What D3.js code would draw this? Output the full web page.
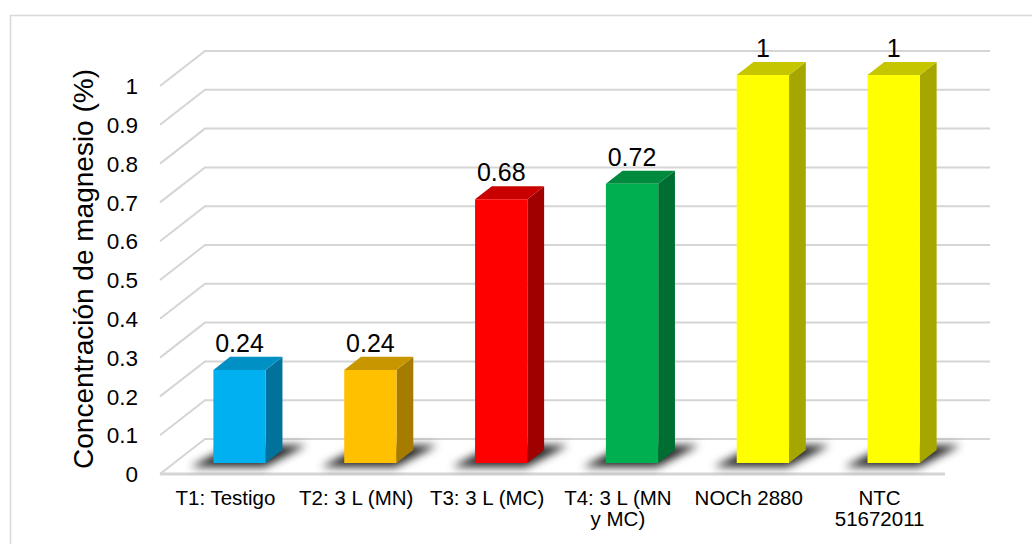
<!DOCTYPE html>
<html>
<head>
<meta charset="utf-8">
<script src="https://cdn.jsdelivr.net/npm/d3@7"></script>
<style>
  html, body { margin: 0; padding: 0; background: #ffffff; }
  svg { display: block; }
  text { font-family: "Liberation Sans", Arial, sans-serif; fill: #000; }
</style>
</head>
<body>
<svg id="chart" width="1032" height="544"></svg>
<script>
// Magnesium concentration per treatment
const categories = ["T1: Testigo", "T2: 3 L (MN)", "T3: 3 L (MC)", "T4: 3 L (MN\ny MC)", "NOCh 2880", "NTC\n51672011"];
const values = [0.24, 0.24, 0.68, 0.72, 1, 1];
const yTicks = [0, 0.1, 0.2, 0.3, 0.4, 0.5, 0.6, 0.7, 0.8, 0.9, 1];
const frontColors = ["#00B0F0", "#FFC000", "#FF0000", "#00B050", "#FFFF00", "#FFFF00"];
const topColors   = ["#0090C4", "#C89700", "#C80000", "#008A3E", "#C6C600", "#C6C600"];
const sideColors  = ["#00729C", "#A57C00", "#A00000", "#006E32", "#A6A600", "#A6A600"];
const yTitle = "Concentración de magnesio (%)";

const svg = d3.select("#chart");

// Oblique 3D projection: depth z runs from 0 (front) to 1 (back wall)
const DX = 45, DY = 35;
const x = d3.scaleBand().domain(categories).range([160, 945]).padding(0);
const y = d3.scaleLinear().domain([0, 1]).range([474, 86]);
const proj = (px, v, z) => [px + z * DX, y(v) - z * DY];
const pts = arr => arr.map(p => p.join(",")).join(" ");

const defs = svg.append("defs");
defs.append("filter").attr("id", "shadowBlur")
  .attr("x", "-50%").attr("y", "-50%").attr("width", "200%").attr("height", "200%")
  .append("feGaussianBlur").attr("stdDeviation", 4);

// Outer chart frame
svg.append("rect")
  .attr("x", 10.5).attr("y", 15.5).attr("width", 1040).attr("height", 560)
  .attr("fill", "#fff").attr("stroke", "#D9D9D9").attr("stroke-width", 1.5);

// Gridlines: left-wall diagonal plus back-wall horizontal
const [xl, xr] = x.range();
const grid = svg.append("g");
yTicks.forEach(t => {
  const a = proj(xl, t, 0), b = proj(xl, t, 1), c = proj(xr, t, 1);
  grid.append("polyline")
    .attr("points", pts([a, b, c]))
    .attr("fill", "none").attr("stroke", "#D5D5D5").attr("stroke-width", 2);
});
// Floor front edge
svg.append("line")
  .attr("x1", xl).attr("x2", xr).attr("y1", y(0)).attr("y2", y(0))
  .attr("stroke", "#D5D5D5").attr("stroke-width", 3);

// Y tick labels
svg.append("g").selectAll("text").data(yTicks).join("text")
  .attr("x", 138).attr("y", d => y(d))
  .attr("dy", "0.36em")
  .attr("text-anchor", "end")
  .attr("font-size", 22.5)
  .text(d => d3.format("~g")(d));

// Y axis title
svg.append("text")
  .attr("transform", `translate(93,${269}) rotate(-90)`)
  .attr("text-anchor", "middle")
  .attr("font-size", 28)
  .text(yTitle);

// Bars
const z0 = 0.314, z1 = 0.686;
const bars = categories.map((c, i) => {
  const bw = x.bandwidth();
  const x0 = x(c) + bw * 0.3, x1 = x0 + bw * 0.4;
  return { c, i, v: values[i], x0, x1 };
});

// Soft floor shadows
svg.append("g").attr("filter", "url(#shadowBlur)")
  .selectAll("polygon").data(bars).join("polygon")
  .attr("points", d => pts([
    proj(d.x0 - 18, 0, 0.2), proj(d.x1 + 4, 0, 0.2),
    proj(d.x1 + 18, 0, 0.82), proj(d.x0 - 4, 0, 0.82)
  ]))
  .attr("fill", "#000").attr("opacity", 0.85);

const barG = svg.append("g").selectAll("g").data(bars).join("g");
// side face
barG.append("polygon")
  .attr("points", d => pts([
    proj(d.x1, 0, z0), proj(d.x1, 0, z1), proj(d.x1, d.v, z1), proj(d.x1, d.v, z0)
  ]))
  .attr("fill", d => sideColors[d.i]);
// top face
barG.append("polygon")
  .attr("points", d => pts([
    proj(d.x0, d.v, z0), proj(d.x1, d.v, z0), proj(d.x1, d.v, z1), proj(d.x0, d.v, z1)
  ]))
  .attr("fill", d => topColors[d.i]);
// front face
barG.append("polygon")
  .attr("points", d => pts([
    proj(d.x0, 0, z0), proj(d.x1, 0, z0), proj(d.x1, d.v, z0), proj(d.x0, d.v, z0)
  ]))
  .attr("fill", d => frontColors[d.i]);

// Data labels above each bar
svg.append("g").selectAll("text").data(bars).join("text")
  .attr("x", d => (d.x0 + d.x1) / 2 + z0 * DX)
  .attr("y", d => proj(d.x0, d.v, z1)[1] - 5)
  .attr("text-anchor", "middle")
  .attr("font-size", 25)
  .text(d => d3.format("~g")(d.v));

// Category labels (may wrap onto two lines)
const catG = svg.append("g").selectAll("text").data(categories).join("text")
  .attr("x", d => x(d) + x.bandwidth() / 2)
  .attr("y", 505)
  .attr("text-anchor", "middle")
  .attr("font-size", 20.5);
catG.each(function(d) {
  const t = d3.select(this);
  d.split("\n").forEach((line, k) => {
    t.append("tspan")
      .attr("x", x(d) + x.bandwidth() / 2)
      .attr("dy", k === 0 ? 0 : 21)
      .text(line);
  });
});
</script>
</body>
</html>
